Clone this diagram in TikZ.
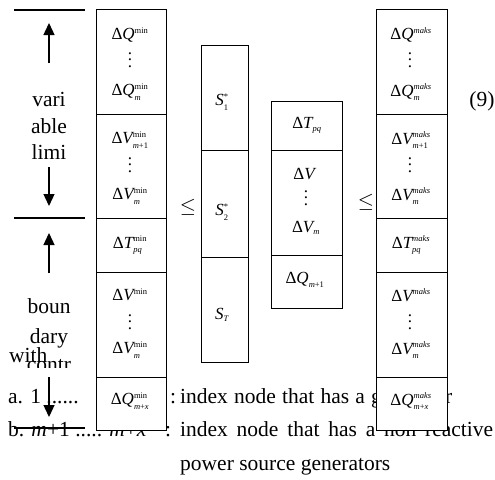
\documentclass[tikz,border=0pt]{standalone}
\usepackage{fontspec}
\setmainfont{Liberation Serif}
\usepackage{amsmath}
\usetikzlibrary{arrows.meta}
\newcommand\ssz{\fontsize{8.5}{9}\selectfont}
\newcommand\smn{\text{\ssz min}}
\newcommand\smk{\text{\ssz\itshape maks}}
\newcommand\ssb[1]{\text{\ssz #1}}
\newcommand\Dl[1]{\text{Δ\itshape #1}}
\newcommand\vdd{\vbox{\baselineskip=6.5pt\hbox{.}\hbox{.}\hbox{.}}}
\begin{document}
\begin{tikzpicture}[x=1pt,y=-1pt,
  cell/.style={draw, line width=0.9pt, fill=white, inner sep=0pt, anchor=north west},
  mt/.style={inner sep=0pt, font=\fontsize{17}{19}\selectfont},
  bt/.style={inner sep=0pt, anchor=base, font=\fontsize{21.5}{24}\selectfont},
  arr/.style={line width=1.3pt, -{Triangle[length=12pt,width=11pt]}},
  hrule/.style={line width=1.2pt}]
\useasboundingbox (0,0) rectangle (495,479);
% left rules
\coordinate (r1a) at (14,10);  \coordinate (r1b) at (85,10);
\coordinate (r2a) at (14,218); \coordinate (r2b) at (85,218);
\coordinate (r3a) at (14,428); \coordinate (r3b) at (85,428);
\draw[hrule] (r1a) -- (r1b);
\draw[hrule] (r2a) -- (r2b);
\draw[hrule] (r3a) -- (r3b);
% left words
\node[bt] (w1) at (49,106) {vari};
\node[bt] (w2) at (49,133) {able};
\node[bt] (w3) at (49,159) {limi};
\node[bt] (w4) at (49,313) {boun};
\node[bt] (w5) at (49,343) {dary};
\begin{scope}
\clip (0,340) rectangle (95,367);
\node[bt] (w6) at (49,371) {contr};
\end{scope}
\node[bt, anchor=base west] (w7) at (9,362) {with};
% bottom text
\node[bt, anchor=base west] (la) at (8,403) {a. 1 ......};
\node[bt, anchor=base west] (lac) at (170,403) {:};
\node[bt, anchor=base west] (lat) at (180,403) {\makebox[272pt][s]{index node that has a generator}};
\node[bt, anchor=base west] (lb) at (8,436) {b. \textit{m}+1 ..... \textit{m}+\textit{x}};
\node[bt, anchor=base west] (lbc) at (165,436) {:};
\node[bt, anchor=base west] (lbt) at (180,436) {\makebox[313pt][s]{index node that has a non reactive}};
\node[bt, anchor=base west] (lct) at (180,470) {power source generators};
\node[bt] (eq) at (482,106) {(9)};
% min column
\node[cell, minimum width=70pt, minimum height=105pt] (mn1) at (96,9) {};
\node[cell, minimum width=70pt, minimum height=104pt] (mn2) at (96,114) {};
\node[cell, minimum width=70pt, minimum height=54pt] (mn3) at (96,218) {};
\node[cell, minimum width=70pt, minimum height=105pt] (mn4) at (96,272) {};
\node[cell, minimum width=70pt, minimum height=53pt] (mn5) at (96,377) {};
\node[mt] (a1) at (130,35) {$\Dl{Q}^{\smn}$};
\node[mt] (a2) at (130,60) {\vdd};
\node[mt] (a3) at (130,92) {$\Dl{Q}^{\smn}_{\ssb{\itshape m}}$};
\node[mt] (a4) at (130,140) {$\Dl{V}^{\smn}_{\ssb{\itshape m\upshape+1}}$};
\node[mt] (a5) at (130,165) {\vdd};
\node[mt] (a6) at (130,196) {$\Dl{V}^{\smn}_{\ssb{\itshape m}}$};
\node[mt] (a7) at (130,245) {$\Dl{T}^{\smn}_{\ssb{\itshape pq}}$};
\node[mt] (a8) at (130,295) {$\Dl{V}^{\smn}$};
\node[mt] (a9) at (130,322) {\vdd};
\node[mt] (a10) at (130,350) {$\Dl{V}^{\smn}_{\ssb{\itshape m}}$};
\node[mt] (a11) at (130,401) {$\Dl{Q}^{\smn}_{\ssb{\itshape m\upshape+\itshape x}}$};
% S column
\node[cell, minimum width=47pt, minimum height=105pt] (s1) at (201,45) {};
\node[cell, minimum width=47pt, minimum height=107pt] (s2) at (201,150) {};
\node[cell, minimum width=47pt, minimum height=105pt] (s3) at (201,257) {};
\node[mt] (b1) at (222,102) {$\text{\itshape S}^{\ssb{*}}_{\ssb{1}}$};
\node[mt] (b2) at (222,212) {$\text{\itshape S}^{\ssb{*}}_{\ssb{2}}$};
\node[mt] (b3) at (222,315) {$\text{\itshape S}_{\ssb{\itshape T}}$};
% middle column
\node[cell, minimum width=71pt, minimum height=49pt] (c1) at (271,101) {};
\node[cell, minimum width=71pt, minimum height=105pt] (c2) at (271,150) {};
\node[cell, minimum width=71pt, minimum height=53pt] (c3) at (271,255) {};
\node[mt] (e1) at (307,125) {$\Dl{T}_{\ssb{\itshape pq}}$};
\node[mt] (e2) at (304,174) {$\Dl{V}$};
\node[mt] (e3) at (306,198) {\vdd};
\node[mt] (e4) at (306,228) {$\Dl{V}_{\ssb{\itshape m}}$};
\node[mt] (e5) at (305,280) {$\Dl{Q}_{\ssb{\itshape m\upshape+1}}$};
% max column
\node[cell, minimum width=71pt, minimum height=105pt] (mx1) at (376,9) {};
\node[cell, minimum width=71pt, minimum height=104pt] (mx2) at (376,114) {};
\node[cell, minimum width=71pt, minimum height=54pt] (mx3) at (376,218) {};
\node[cell, minimum width=71pt, minimum height=105pt] (mx4) at (376,272) {};
\node[cell, minimum width=71pt, minimum height=53pt] (mx5) at (376,377) {};
\node[mt] (f1) at (411,35) {$\Dl{Q}^{\smk}$};
\node[mt] (f2) at (410,60) {\vdd};
\node[mt] (f3) at (411,92) {$\Dl{Q}^{\smk}_{\ssb{\itshape m}}$};
\node[mt] (f4) at (411,140) {$\Dl{V}^{\smk}_{\ssb{\itshape m\upshape+1}}$};
\node[mt] (f5) at (410,165) {\vdd};
\node[mt] (f6) at (411,196) {$\Dl{V}^{\smk}_{\ssb{\itshape m}}$};
\node[mt] (f7) at (411,245) {$\Dl{T}^{\smk}_{\ssb{\itshape pq}}$};
\node[mt] (f8) at (411,295) {$\Dl{V}^{\smk}$};
\node[mt] (f9) at (410,322) {\vdd};
\node[mt] (f10) at (411,350) {$\Dl{V}^{\smk}_{\ssb{\itshape m}}$};
\node[mt] (f11) at (411,401) {$\Dl{Q}^{\smk}_{\ssb{\itshape m\upshape+\itshape x}}$};
% relations
\node[font=\fontsize{21}{24}\selectfont, inner sep=0pt] (le1) at (188,207) {$\leq$};
\node[font=\fontsize{21}{24}\selectfont, inner sep=0pt] (le2) at (366,202) {$\leq$};
% arrows
\coordinate (p1) at (49,63);  \coordinate (q1) at (49,23);
\coordinate (p2) at (49,167); \coordinate (q2) at (49,206);
\coordinate (p3) at (49,273); \coordinate (q3) at (49,233);
\coordinate (p4) at (49,377); \coordinate (q4) at (49,417);
\draw[arr] (p1) -- (q1);
\draw[arr] (p2) -- (q2);
\draw[arr] (p3) -- (q3);
\draw[arr] (p4) -- (q4);
\end{tikzpicture}
\end{document}
